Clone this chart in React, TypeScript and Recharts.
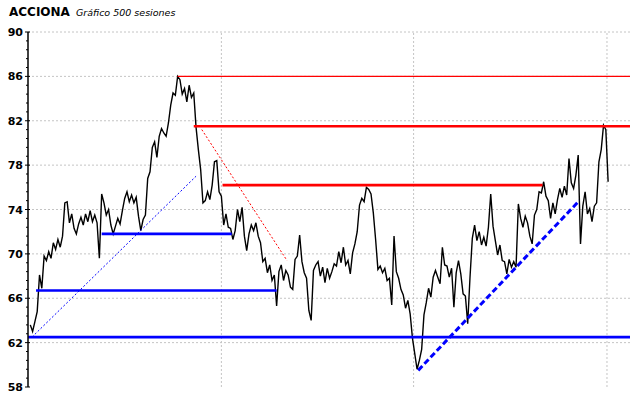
import { LineChart, Line, XAxis, YAxis, ReferenceLine } from 'recharts'

// ACCIONA, 500 sesiones. Un cierre cada PASO sesiones.
const PASO = 2

const cierres = [
  63.6, 63.0, 63.9, 64.8, 68.1, 66.9, 69.8, 69.4, 70.2, 69.6,
  71.0, 70.4, 71.3, 70.6, 71.6, 74.6, 74.7, 72.8, 73.6, 72.3,
  71.8, 72.7, 73.3, 72.6, 73.6, 72.9, 73.9, 72.9, 73.5, 72.8,
  69.6, 75.4, 74.6, 73.5, 74.0, 72.6, 71.8, 72.5, 73.2, 72.7,
  73.9, 75.0, 75.6, 74.7, 75.3, 74.6, 75.1, 73.4, 72.1, 73.1,
  73.5, 76.8, 77.4, 79.6, 80.1, 78.7, 80.6, 81.3, 80.9, 80.6,
  81.8, 83.4, 84.5, 84.3, 86.0, 85.7, 84.4, 84.9, 83.7, 85.2,
  84.1, 84.5, 81.4, 79.4, 77.6, 74.6, 74.8, 75.6, 74.9, 76.2,
  78.3, 78.4, 75.6, 75.2, 72.6, 73.6, 72.4, 72.3, 71.3, 72.1,
  74.0, 72.9, 74.2, 71.6, 70.3, 71.8, 72.6, 72.1, 72.8, 71.6,
  71.0, 69.3, 69.6, 68.3, 69.0, 67.6, 68.1, 65.3, 68.4, 69.0,
  67.6, 68.5, 68.1, 67.0, 66.8, 69.5, 69.8, 71.7, 69.3, 68.3,
  67.8, 64.9, 64.0, 68.5, 69.0, 69.3, 68.0, 68.8, 67.4, 68.7,
  67.8, 68.4, 69.1, 68.9, 70.2, 69.2, 70.6, 69.0, 69.4, 68.2,
  70.1, 70.9, 72.0, 74.4, 75.0, 74.7, 76.0, 75.8, 75.4, 73.7,
  71.3, 68.6, 68.9, 68.3, 68.7, 67.6, 67.8, 65.4, 71.6, 68.4,
  67.8, 66.8, 66.3, 65.1, 65.8, 64.6, 62.4, 61.0, 59.6, 60.4,
  61.4, 64.5, 65.6, 66.9, 66.1, 67.9, 68.5, 67.9, 67.3, 70.6,
  69.0, 68.9, 67.9, 68.7, 65.2, 68.3, 69.4, 68.2, 66.4, 66.2,
  63.7, 67.9, 71.4, 72.6, 71.2, 72.0, 70.8, 71.5, 70.7, 72.4,
  75.4, 72.5, 71.2, 69.9, 70.8, 69.4, 69.3, 68.2, 69.5, 68.8,
  69.3, 68.8, 74.5, 73.2, 72.4, 73.4, 72.8, 71.6, 70.9, 73.5,
  74.0, 75.6, 75.5, 76.5, 75.2, 74.8, 73.2, 74.6, 73.6, 74.9,
  75.9, 75.1, 76.1, 75.3, 78.6, 76.4, 75.9, 77.1, 78.9, 70.9,
  74.3, 75.6, 73.6, 74.1, 72.9, 74.3, 74.6, 78.3, 79.4, 81.6,
  81.2, 76.5,
]

// niveles horizontales: [precio, sesión inicial, sesión final]
const resistencias: [number, number, number][] = [
  [86, 128, 521],
  [81.5, 142, 521],
  [76.2, 167, 445],
]
const soportes: [number, number, number][] = [
  [71.8, 62, 175],
  [66.7, 5, 214],
  [62.5, -2, 521],
]

// directrices: [sesión, precio, sesión, precio]
const alcistaFina: [number, number, number, number] = [1.5, 62.5, 144, 77.0]
const bajista: [number, number, number, number] = [149, 81.2, 223, 69.4]
const alcista: [number, number, number, number] = [337, 59.5, 477, 74.8]

const rejillaY = [62, 66, 70, 74, 78, 82, 86, 90]
const rejillaX = [166, 333, 501]
const ticksY = Array.from({ length: 41 }, (_, k) => 58 + k * 0.8)

const data = cierres.map((v, i) => ({ s: i * PASO, v }))

function TickY({ x, y, payload }: any) {
  const v = payload.value
  const q = (v - 58) / 4
  const mayor = Math.abs(q - Math.round(q)) < 1e-6
  return (
    <g>
      <line x1={mayor ? x + 2 : x + 3} x2={mayor ? x + 7 : x + 5} y1={y} y2={y} stroke="#000" />
      {mayor && (
        <text
          x={x}
          y={y}
          dy={4}
          textAnchor="end"
          fontFamily="DejaVu Sans"
          fontWeight="bold"
          fontSize={11}
          fill="#000"
        >
          {Math.round(v)}
        </text>
      )}
    </g>
  )
}

const seg = (d: [number, number, number, number]) => [
  { x: d[0], y: d[1] },
  { x: d[2], y: d[3] },
]

export default function App() {
  return (
    <div style={{ position: 'absolute', left: 0, top: 0, width: 640, height: 398, background: '#fff' }}>
      <div
        style={{
          position: 'absolute',
          left: 9,
          top: 5,
          lineHeight: '12px',
          fontFamily: 'DejaVu Sans',
          color: '#000',
          whiteSpace: 'nowrap',
          zIndex: 1,
        }}
      >
        <span style={{ fontSize: 12, fontWeight: 'bold' }}>ACCIONA</span>
        <span style={{ fontSize: 9.5, fontStyle: 'italic', marginLeft: 6 }}>Gráfico 500 sesiones</span>
      </div>
      <LineChart width={640} height={398} data={data} margin={{ top: 32, right: 10, bottom: 11, left: 0 }}>
        <XAxis
          dataKey="s"
          type="number"
          domain={[-2, 521]}
          allowDataOverflow
          ticks={rejillaX}
          tick={false}
          tickLine={false}
          height={0}
          axisLine={{ stroke: '#000', strokeWidth: 1.5 }}
        />
        <YAxis
          type="number"
          domain={[58, 90]}
          allowDataOverflow
          ticks={ticksY}
          interval={0}
          width={28}
          tickSize={4}
          tickMargin={1}
          tickLine={false}
          tick={<TickY />}
          axisLine={{ stroke: '#000', strokeWidth: 1.5 }}
        />
        {rejillaY.map(y => (
          <ReferenceLine key={'gy' + y} y={y} stroke="#c4c4c4" strokeDasharray="2 2" />
        ))}
        {rejillaX.map(x => (
          <ReferenceLine key={'gx' + x} x={x} stroke="#c4c4c4" strokeDasharray="2 2" />
        ))}
        <Line
          type="linear"
          dataKey="v"
          stroke="#000"
          strokeWidth={1.4}
          dot={false}
          activeDot={false}
          isAnimationActive={false}
        />
        {resistencias.map(([y, a, b], i) => (
          <ReferenceLine
            key={'r' + i}
            segment={[{ x: a, y }, { x: b, y }]}
            stroke="#ff0000"
            strokeWidth={i === 0 ? 1.3 : 2.6}
          />
        ))}
        {soportes.map(([y, a, b], i) => (
          <ReferenceLine key={'s' + i} segment={[{ x: a, y }, { x: b, y }]} stroke="#0000ff" strokeWidth={2.6} />
        ))}
        <ReferenceLine segment={seg(alcistaFina)} stroke="#0000ff" strokeWidth={1} strokeDasharray="2 2" />
        <ReferenceLine segment={seg(bajista)} stroke="#ff0000" strokeWidth={1} strokeDasharray="2 2" />
        <ReferenceLine segment={seg(alcista)} stroke="#0000ff" strokeWidth={3} strokeDasharray="6 3" />
      </LineChart>
    </div>
  )
}
